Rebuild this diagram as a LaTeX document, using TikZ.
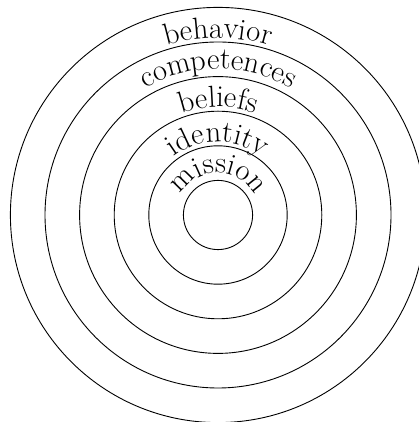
\documentclass[tikz,border=0pt]{standalone}
\usetikzlibrary{decorations.text}
\begin{document}
\begin{tikzpicture}[x=1pt,y=1pt,
  ring/.style={line width=0.9pt},
  lbl/.style={decorate, decoration={text along path, text align=center, text={|\fontsize{30.5}{36}\selectfont|#1}}}]
\useasboundingbox (0,0) rectangle (419,422);
\clip (0,0) rectangle (419,422);
\coordinate (c) at (218,207);
\foreach \k in {1,...,6} \draw[ring] (c) circle[radius=34.6*\k];
\path[lbl=mission] ([xshift=-42pt]c) arc[start angle=180,end angle=0,radius=42];
\path[lbl=identity] ([xshift=-73pt]c) arc[start angle=180,end angle=0,radius=73];
\path[lbl=beliefs] ([xshift=-108pt]c) arc[start angle=180,end angle=0,radius=108];
\path[lbl=competences] ([xshift=-146pt]c) arc[start angle=180,end angle=0,radius=146];
\path[lbl=behavior] ([xshift=-177pt]c) arc[start angle=180,end angle=0,radius=177];
\end{tikzpicture}
\end{document}
